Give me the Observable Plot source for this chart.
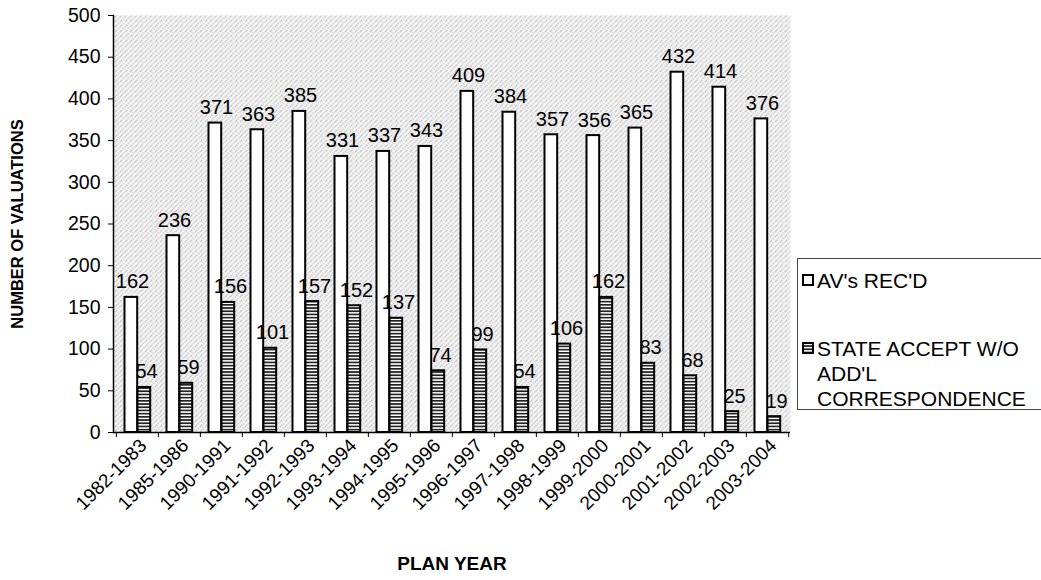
<!DOCTYPE html>
<html>
<head>
<meta charset="utf-8">
<script src="https://cdn.jsdelivr.net/npm/d3@7"></script>
<script src="https://cdn.jsdelivr.net/npm/@observablehq/plot@0.6"></script>
<style>
  body { margin: 0; background: #fff; font-family: "Liberation Sans", Arial, sans-serif; }
  #wrap { position: relative; width: 1041px; height: 580px; overflow: hidden; }
  #chart { position: absolute; left: 0; top: 0; }
  #legend { position: absolute; left: 797px; top: 258px; width: 260px; height: 152px;
            border: 1px solid #444; background: #fff; box-sizing: border-box;
            font-size: 21px; color: #000; }
  .item { position: absolute; left: 4px; display: flex; align-items: flex-start; line-height: 25px; }
  .item svg { margin-right: 3px; margin-top: 6px; flex: none; }
</style>
</head>
<body>
<svg width="0" height="0" style="position:absolute">
  <defs>
    <pattern id="hatch" patternUnits="userSpaceOnUse" width="6" height="3.2">
      <rect width="6" height="3.2" fill="#fff"/>
      <rect y="0" width="6" height="1.7" fill="#222"/>
    </pattern>
    <pattern id="stipple" patternUnits="userSpaceOnUse" width="5" height="5">
      <rect width="5" height="5" fill="#f6f6f6"/>
      <rect x="0" y="0" width="1" height="1" fill="#a0a0a0"/>
      <rect x="2" y="2" width="1" height="1" fill="#b4b4b4"/>
      <rect x="4" y="1" width="1" height="1" fill="#acacac"/>
      <rect x="1" y="4" width="1" height="1" fill="#a4a4a4"/>
      <rect x="3" y="3" width="1" height="1" fill="#cccccc"/>
    </pattern>
  </defs>
</svg>
<div id="wrap">
  <div id="chart"></div>
  <div id="legend">
    <div class="item" style="top:9px">
      <svg width="12" height="12"><rect x="1" y="1" width="10" height="10" fill="#fff" stroke="#000" stroke-width="2"/></svg>
      <span>AV's REC'D</span>
    </div>
    <div class="item" style="top:77px">
      <svg width="12" height="12"><rect x="1" y="1" width="10" height="10" fill="url(#hatch)" stroke="#000" stroke-width="2"/></svg>
      <span>STATE ACCEPT W/O<br>ADD'L<br>CORRESPONDENCE</span>
    </div>
  </div>
</div>
<script>
const years = ["1982-1983","1985-1986","1990-1991","1991-1992","1992-1993","1993-1994","1994-1995","1995-1996","1996-1997","1997-1998","1998-1999","1999-2000","2000-2001","2001-2002","2002-2003","2003-2004"];
const received = [162,236,371,363,385,331,337,343,409,384,357,356,365,432,414,376];
const accepted = [54,59,156,101,157,152,137,74,99,54,106,162,83,68,25,19];
const yTicks = [0,50,100,150,200,250,300,350,400,450,500];

const recRows = years.map((y, i) => ({year: y, value: received[i]}));
const accRows = years.map((y, i) => ({year: y, value: accepted[i]}));

const W = 800, H = 580, mL = 113, mR = 10, mT = 15, mB = 148;
const step = (W - mL - mR) / years.length;

const chart = Plot.plot({
  width: W, height: H,
  marginLeft: mL, marginRight: mR, marginTop: mT, marginBottom: mB,
  style: {fontFamily: "Liberation Sans, Arial, sans-serif", color: "#000", background: "transparent"},
  x: {type: "band", domain: years, padding: 0},
  y: {domain: [0, 500]},
  marks: [
    Plot.frame({fill: "url(#stipple)", stroke: "none"}),
    Plot.barY(recRows, {x: "year", y: "value", fill: "#fff", stroke: "#000", strokeWidth: 2,
      insetLeft: 8.5, insetRight: step - 21.5}),
    Plot.barY(accRows, {x: "year", y: "value", fill: "url(#hatch)", stroke: "#000", strokeWidth: 2,
      insetLeft: 21.5, insetRight: step - 34.5}),
    Plot.text(recRows, {x: "year", y: "value", text: d => String(d.value), dx: -5, dy: -9,
      lineAnchor: "bottom", fontSize: 20, fill: "#000"}),
    Plot.text(accRows, {x: "year", y: "value", text: d => String(d.value), dx: 9, dy: -9,
      lineAnchor: "bottom", fontSize: 20, fill: "#000"}),
    Plot.ruleY([0], {stroke: "#000", strokeWidth: 1.5}),
    Plot.frame({anchor: "left", stroke: "#000", strokeWidth: 1.5}),
    Plot.axisY({ticks: yTicks, tickSize: 5, tickPadding: 8, fontSize: 19.5, label: null, tickFormat: d => String(d)}),
    Plot.axisX({tickSize: 5, dx: -step / 2, text: null, label: null}),
    Plot.axisX([years[years.length - 1]], {tickSize: 5, dx: step / 2, text: null, label: null}),
    Plot.axisX({tickSize: 0, tickRotate: -45, tickPadding: 10, fontSize: 19, label: null, dx: 6}),
    Plot.text(["NUMBER OF VALUATIONS"], {frameAnchor: "left", dx: -96, rotate: -90, text: d => d,
      textAnchor: "middle", fontSize: 16.5, fontWeight: "bold"}),
    Plot.text(["PLAN YEAR"], {frameAnchor: "bottom", dy: 137, text: d => d,
      fontSize: 19, fontWeight: "bold"})
  ]
});
document.getElementById("chart").appendChild(chart);
</script>
</body>
</html>
